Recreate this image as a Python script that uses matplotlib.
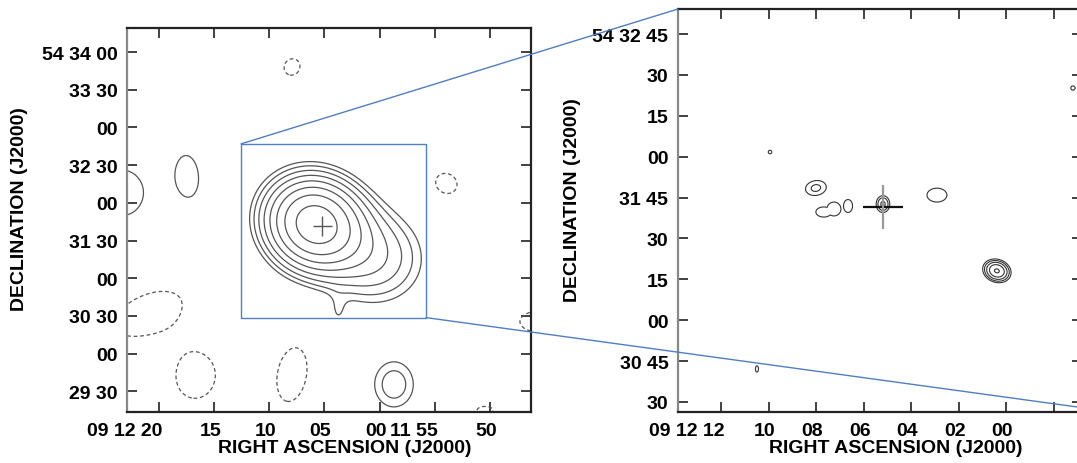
import numpy as np
import matplotlib
matplotlib.use("Agg")
import matplotlib.pyplot as plt
from matplotlib.patches import Rectangle, ConnectionPatch
from matplotlib.transforms import ScaledTranslation

plt.rcParams['font.family'] = ['Liberation Sans', 'DejaVu Sans']
plt.rcParams['font.weight'] = 'bold'
plt.rcParams['font.size'] = 14

# Offsets: RA in seconds from 09 12 00, Dec in arcsec from +54 30 00
DEC_REF = 54.5
ARCSEC_PER_RA_SEC = 15.0 * np.cos(np.radians(DEC_REF))

# Contour levels (multiples of the map rms)
levels = [-3, 3, 4.24, 6, 8.49, 12, 16.97, 24, 33.9]

# Low-resolution map: emission components
low_ra = [5.86, 0.60, 3.80, 17.37, 23.35, 7.94, -6.02, 21.09, 16.65, 7.94, -1.30, -9.56, -14.27]
low_dec = [103.4, 77.2, 31.5, 141.5, 128.0, 228.1, 135.2, 31.9, -18.1, -16.6, -24.5, -45.1, 25.5]
low_peak = [41.6, 8.2, 2.2, 4.0, 4.0, -3.5, -3.6, -4.0, -4.0, -4.0, 5.2, -3.4, -3.4]
low_major = [23.0, 27.0, 10.0, 19.8, 23.8, 12.0, 15.0, 36.5, 23.0, 28.5, 17.0, 12.7, 27.0]
low_minor = [21.0, 25.0, 5.5, 10.3, 22.2, 11.0, 13.5, 19.0, 20.0, 15.0, 14.5, 6.3, 16.0]
low_angle = [-30, -20, 90, 95, 90, 60, -30, 25, 80, 80, 90, 0, 0]

# High-resolution map: compact components
high_ra = [9.94, 8.01, 7.68, 7.25, 6.66, 5.19, 2.92, 0.40, 10.49, -2.80]
high_dec = [121.7, 108.5, 99.7, 100.8, 101.9, 102.6, 105.9, 78.1, 42.1, 145.2]
high_peak = [3.3, 4.64, 3.8, 3.8, 3.8, 6.5, 3.8, 12.5, 3.15, 3.3]
high_major = [1.5, 4.1, 4.2, 3.7, 3.45, 2.5, 5.3, 3.15, 3.7, 1.8]
high_minor = [1.5, 2.9, 2.7, 3.7, 2.4, 2.0, 3.7, 2.5, 1.8, 1.8]
high_angle = [0, 10, 0, 0, 90, 90, 0, -20, 90, 0]

# Position marker (RA, Dec with uncertainties)
cross_ra, cross_dec = 5.2, 101.5
cross_dra, cross_ddec = 0.85, 8.0

# Region of the low-resolution map shown enlarged
box_ra = (12.57, -4.21)
box_dec = (28.7, 166.9)

# Axis ticks and labels
low_xticks = [20, 15, 10, 5, 0, -5, -10]
low_xlabels = ['09 12 20', '15', '10', '05', '00', '11 55', '50']
low_yticks = [-30, 0, 30, 60, 90, 120, 150, 180, 210, 240]
low_ylabels = ['29 30', '00', '30 30', '00', '31 30', '00', '32 30', '00', '33 30', '54 34 00']
high_xticks = [12, 10, 8, 6, 4, 2, 0, -2]
high_xlabels = ['09 12 12', '10', '08', '06', '04', '02', '00', '']
high_yticks = [30, 45, 60, 75, 90, 105, 120, 135, 150, 165]
high_ylabels = ['30', '30 45', '00', '15', '30', '31 45', '00', '15', '30', '54 32 45']

low_xlim, low_ylim = (22.9, -13.72), (-46.4, 259.1)
high_xlim, high_ylim = (13.81, -3.18), (26.3, 174.2)


def components(ra, dec, cra, cdec, peak, major, minor, angle):
    ra_g, dec_g = np.meshgrid(ra, dec)
    out = []
    for x0, y0, p, a, b, th in zip(cra, cdec, peak, major, minor, angle):
        u = -(ra_g - x0) * ARCSEC_PER_RA_SEC
        v = dec_g - y0
        t = np.radians(th)
        pa = u * np.cos(t) + v * np.sin(t)
        pb = -u * np.sin(t) + v * np.cos(t)
        out.append(p * np.exp(-0.5 * ((pa / a) ** 2 + (pb / b) ** 2)))
    return ra_g, dec_g, np.array(out)


def style_axes(ax, xticks, xlabels, yticks, ylabels, xlim, ylim):
    ax.set_xlim(*xlim)
    ax.set_ylim(*ylim)
    ax.set_xticks(xticks)
    ax.set_xticklabels(xlabels)
    ax.set_yticks(yticks)
    ax.set_yticklabels(ylabels)
    ax.tick_params(direction='in', length=7, width=1.3, pad=7,
                   top=True, right=True, color='#333333', labelsize=14)
    for side, sp in ax.spines.items():
        sp.set_linewidth(1.6)
        sp.set_color('#888888' if side == 'left' else '#222222')
    fig = ax.figure
    for lab in ax.get_xticklabels():
        if ' ' in lab.get_text():
            lab.set_horizontalalignment('right')
            shift = ScaledTranslation(0.03, 0, fig.dpi_scale_trans)
        else:
            shift = ScaledTranslation(-0.04, 0, fig.dpi_scale_trans)
        lab.set_transform(lab.get_transform() + shift)
    ax.set_xlabel('RIGHT ASCENSION (J2000)', fontsize=14, fontweight='bold')
    ax.set_ylabel('DECLINATION (J2000)', fontsize=14, fontweight='bold')


fig = plt.figure(figsize=(10.77, 4.64), dpi=100)
ax1 = fig.add_axes([127 / 1077, 51 / 464, 404 / 1077, 384 / 464])
ax2 = fig.add_axes([678 / 1077, 51 / 464, 404 / 1077, 403 / 464])

styles = [(0, (3.0, 2.2)) if lv < 0 else 'solid' for lv in levels]

# Low-resolution map: blended emission (components add up)
gx = np.linspace(25.0, -16.0, 500)
gy = np.linspace(-55.0, 265.0, 500)
X, Y, C = components(gx, gy, low_ra, low_dec, low_peak, low_major, low_minor, low_angle)
Z = C.sum(axis=0)
ax1.contour(X, Y, Z, levels=levels, colors='#555555', linewidths=0.9, linestyles=styles)
ax1.hlines(cross_dec, cross_ra - cross_dra, cross_ra + cross_dra, color='#555555', lw=1.0)
ax1.vlines(cross_ra, cross_dec - cross_ddec, cross_dec + cross_ddec, color='#555555', lw=1.0)
ax1.add_patch(Rectangle((min(box_ra), box_dec[0]), abs(box_ra[0] - box_ra[1]),
                        box_dec[1] - box_dec[0], fill=False, ec='#4f7fc4', lw=1.0, zorder=5))
style_axes(ax1, low_xticks, low_xlabels, low_yticks, low_ylabels, low_xlim, low_ylim)
ax1.xaxis.set_label_coords(0.54, -0.07)
ax1.yaxis.set_label_coords(-0.245, 0.53)

# High-resolution map: compact, unblended components
hx = np.linspace(14.5, -4.0, 800)
hy = np.linspace(22.0, 178.0, 800)
X2, Y2, C2 = components(hx, hy, high_ra, high_dec, high_peak, high_major, high_minor, high_angle)
Z2 = C2.max(axis=0)
ax2.contour(X2, Y2, Z2, levels=levels, colors='#333333', linewidths=0.8, linestyles=styles)
ax2.hlines(cross_dec, cross_ra - cross_dra, cross_ra + cross_dra, color='#111111', lw=1.6)
ax2.vlines(cross_ra, cross_dec - cross_ddec, cross_dec + cross_ddec, color='#999999', lw=1.6)
style_axes(ax2, high_xticks, high_xlabels, high_yticks, high_ylabels, high_xlim, high_ylim)
ax2.xaxis.set_label_coords(0.54, -0.067)
ax2.yaxis.set_label_coords(-0.24, 0.5285)

# Lines linking the boxed region to the enlarged map
con_top = ConnectionPatch(xyA=(box_ra[0], box_dec[1]), coordsA=ax1.transData,
                          xyB=(0, 1), coordsB=ax2.transAxes, color='#4f7fc4', lw=1.0)
con_bot = ConnectionPatch(xyA=(box_ra[1], box_dec[0]), coordsA=ax1.transData,
                          xyB=(high_xlim[1], 27.9), coordsB=ax2.transData, color='#4f7fc4', lw=1.0)
fig.add_artist(con_top)
fig.add_artist(con_bot)

fig.savefig('out.png', dpi=100)
